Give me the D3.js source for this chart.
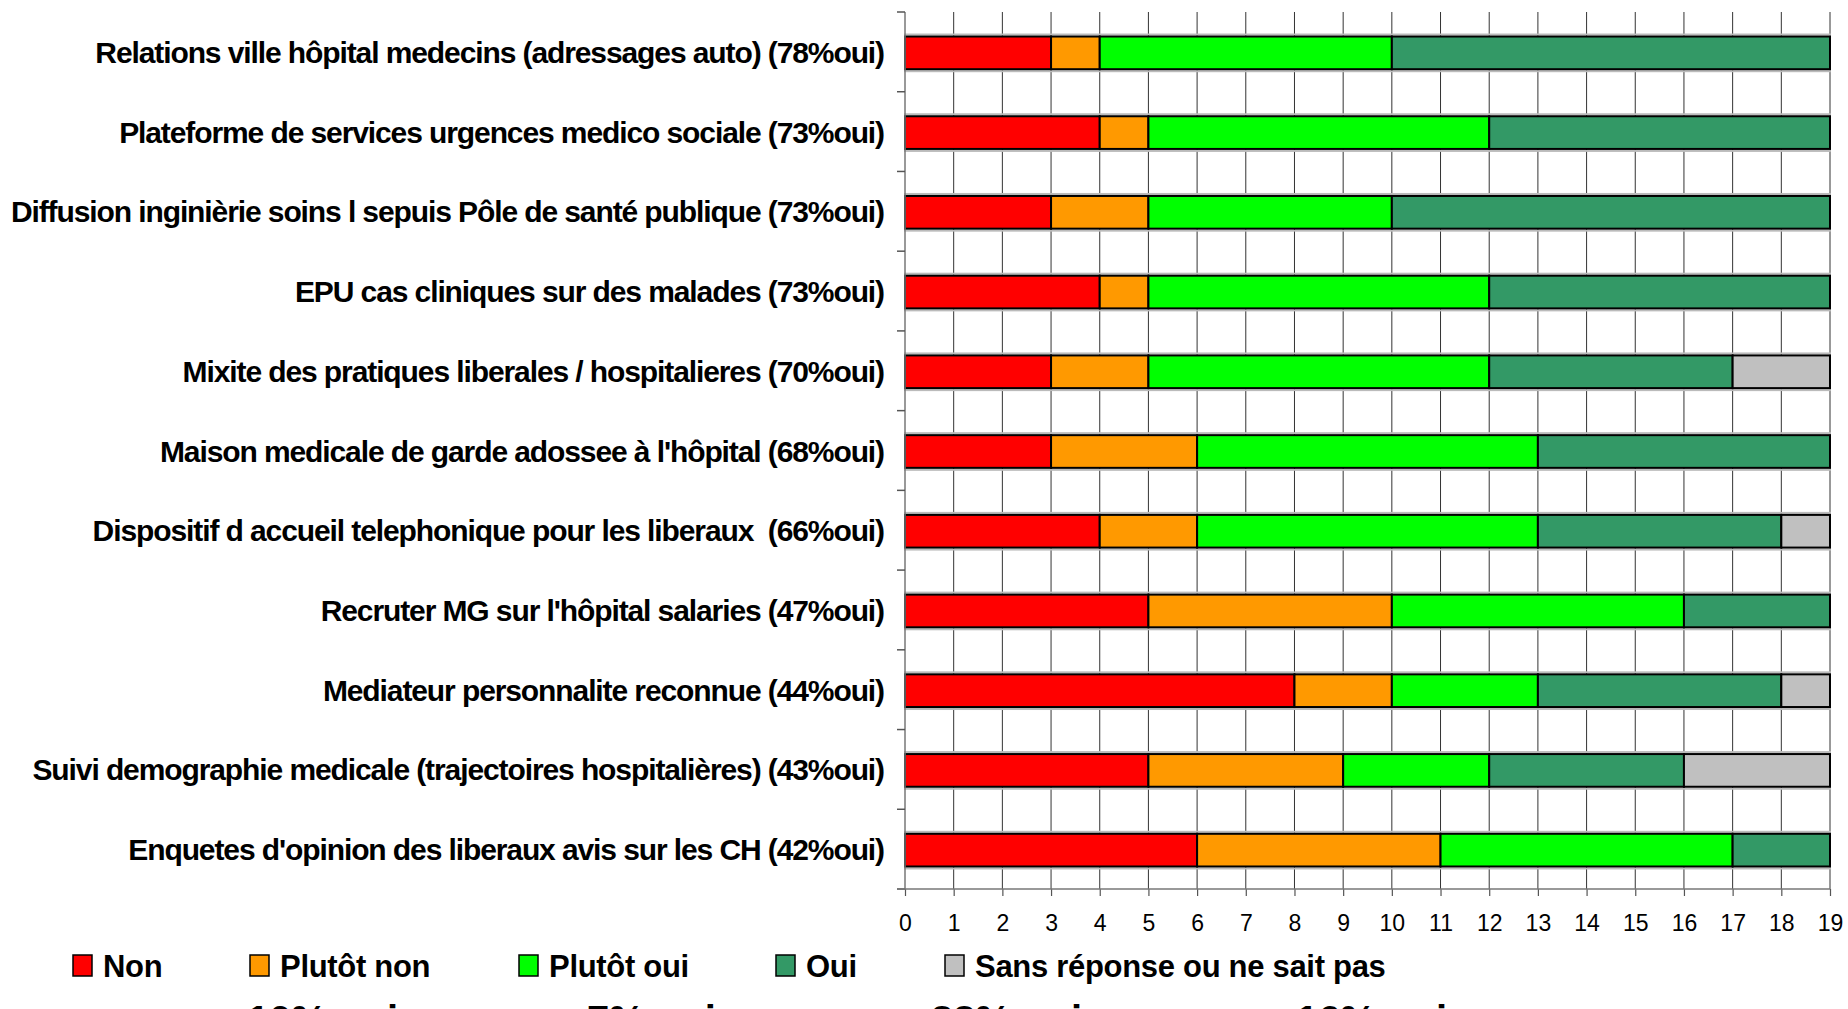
<!DOCTYPE html>
<html><head><meta charset="utf-8">
<script src="https://cdn.jsdelivr.net/npm/d3@7"></script>
<style>
html,body{margin:0;padding:0;background:#fff;}
svg{display:block;font-family:"Liberation Sans",Arial,sans-serif;}
</style></head>
<body>
<svg id="chart" width="1848" height="1009"></svg>
<script>
const categories = [
  "Relations ville hôpital medecins (adressages auto) (78%oui)",
  "Plateforme de services urgences medico sociale (73%oui)",
  "Diffusion inginièrie soins l sepuis Pôle de santé publique (73%oui)",
  "EPU cas cliniques sur des malades (73%oui)",
  "Mixite des pratiques liberales / hospitalieres (70%oui)",
  "Maison medicale de garde adossee à l'hôpital (68%oui)",
  "Dispositif d accueil telephonique pour les liberaux  (66%oui)",
  "Recruter MG sur l'hôpital salaries (47%oui)",
  "Mediateur personnalite reconnue (44%oui)",
  "Suivi demographie medicale (trajectoires hospitalières) (43%oui)",
  "Enquetes d'opinion des liberaux avis sur les CH (42%oui)"
];
const seriesNames = ["Non","Plutôt non","Plutôt oui","Oui","Sans réponse ou ne sait pas"];
const non        = [3,4,3,4,3,3,4,5,8,5,6];
const plutotNon  = [1,1,2,1,2,3,2,5,2,4,5];
const plutotOui  = [6,7,5,7,7,7,7,6,3,3,6];
const oui        = [9,7,9,7,5,6,5,3,5,4,2];
const sansRep    = [0,0,0,0,2,0,1,0,1,3,0];
const xTicks = d3.range(0,20);
const colors = ["#FF0000","#FF9900","#00FF00","#339966","#C0C0C0"];
const footTexts = ["10% oui","7% oui","33% oui","16% oui"];

const seriesVals = [non, plutotNon, plutotOui, oui, sansRep];
const rows = categories.map((c,i)=>{const o={cat:c}; seriesNames.forEach((s,j)=>o[s]=seriesVals[j][i]); return o;});
const stack = d3.stack().keys(seriesNames)(rows);

const svg = d3.select("#chart");
const x = d3.scaleLinear().domain([0,19]).range([905,1830]);
const y = d3.scaleBand().domain(categories).range([12,889]).padding(0);
const bh = y.bandwidth()*0.41;
const color = d3.scaleOrdinal().domain(seriesNames).range(colors);

// vertical grid
svg.append("g").selectAll("line").data(xTicks.slice(1)).join("line")
  .attr("x1",d=>x(d)).attr("x2",d=>x(d)).attr("y1",12).attr("y2",889)
  .attr("stroke","#333").attr("stroke-width",1);

// bars
const off = (y.bandwidth()-bh)/2 + 1;
svg.append("g").selectAll("rect").data(categories).join("rect")
  .attr("x",x(0)).attr("width",x(19)-x(0)).attr("y",d=>y(d)+off-2).attr("height",bh+4)
  .attr("fill","none").attr("stroke","#bbb").attr("stroke-width",2);
const g = svg.append("g").selectAll("g").data(stack).join("g").attr("fill",d=>color(d.key));
g.selectAll("rect").data(d=>d.filter(p=>p[1]>p[0])).join("rect")
  .attr("x",d=>x(d[0])).attr("width",d=>x(d[1])-x(d[0]))
  .attr("y",d=>y(d.data.cat)+off).attr("height",bh)
  .attr("stroke","#000").attr("stroke-width",2);

// y axis
const yAxis = svg.append("g").attr("transform","translate(905,0)");
yAxis.append("line").attr("x1",0).attr("x2",0).attr("y1",12).attr("y2",889).attr("stroke","#777").attr("stroke-width",1.5);
yAxis.selectAll("line.t").data(categories.concat([null])).join("line").attr("class","t")
  .attr("x1",-8).attr("x2",0)
  .attr("y1",(d,i)=>i<categories.length?y(d):889).attr("y2",(d,i)=>i<categories.length?y(d):889)
  .attr("stroke","#555").attr("stroke-width",1.5);

// category labels
svg.append("g").selectAll("text").data(categories).join("text")
  .attr("x",884).attr("y",d=>y(d)+y.bandwidth()/2+11)
  .attr("text-anchor","end")
  .attr("font-size",30).attr("font-weight","bold").attr("letter-spacing",-1.1)
  .attr("xml:space","preserve")
  .style("white-space","pre")
  .text(d=>d);

// x axis
const xAxis = svg.append("g").attr("transform","translate(0,889)")
  .call(d3.axisBottom(x).tickValues(xTicks).tickSize(7).tickPadding(19).tickSizeOuter(0));
xAxis.select(".domain").remove();
xAxis.append("line").attr("x1",897).attr("x2",1830).attr("stroke","#777").attr("stroke-width",1.5);
xAxis.selectAll(".tick line").attr("stroke","#555").attr("stroke-width",1.2);
xAxis.selectAll(".tick text").attr("font-size",23).attr("fill","#000").attr("font-family","Liberation Sans, Arial, sans-serif");

// legend
const legX = [73,250,519,776,945];
const leg = svg.append("g").selectAll("g").data(seriesNames).join("g")
  .attr("transform",(d,i)=>`translate(${legX[i]},955)`);
leg.append("rect").attr("width",19).attr("height",21).attr("fill",d=>color(d)).attr("stroke","#000").attr("stroke-width",1.5);
leg.append("text").attr("x",30).attr("y",22)
  .attr("font-size",31).attr("font-weight","bold").attr("letter-spacing",-0.3).text(d=>d);

// cut-off footer text (partially visible at the bottom edge, as in the reference)
const footX = [247,587,931,1296];
svg.append("g").selectAll("text").data(footTexts).join("text")
  .attr("x",(d,i)=>footX[i]).attr("y",1034).attr("font-size",40).attr("font-weight","bold")
  .text(d=>d);
</script>
</body></html>
